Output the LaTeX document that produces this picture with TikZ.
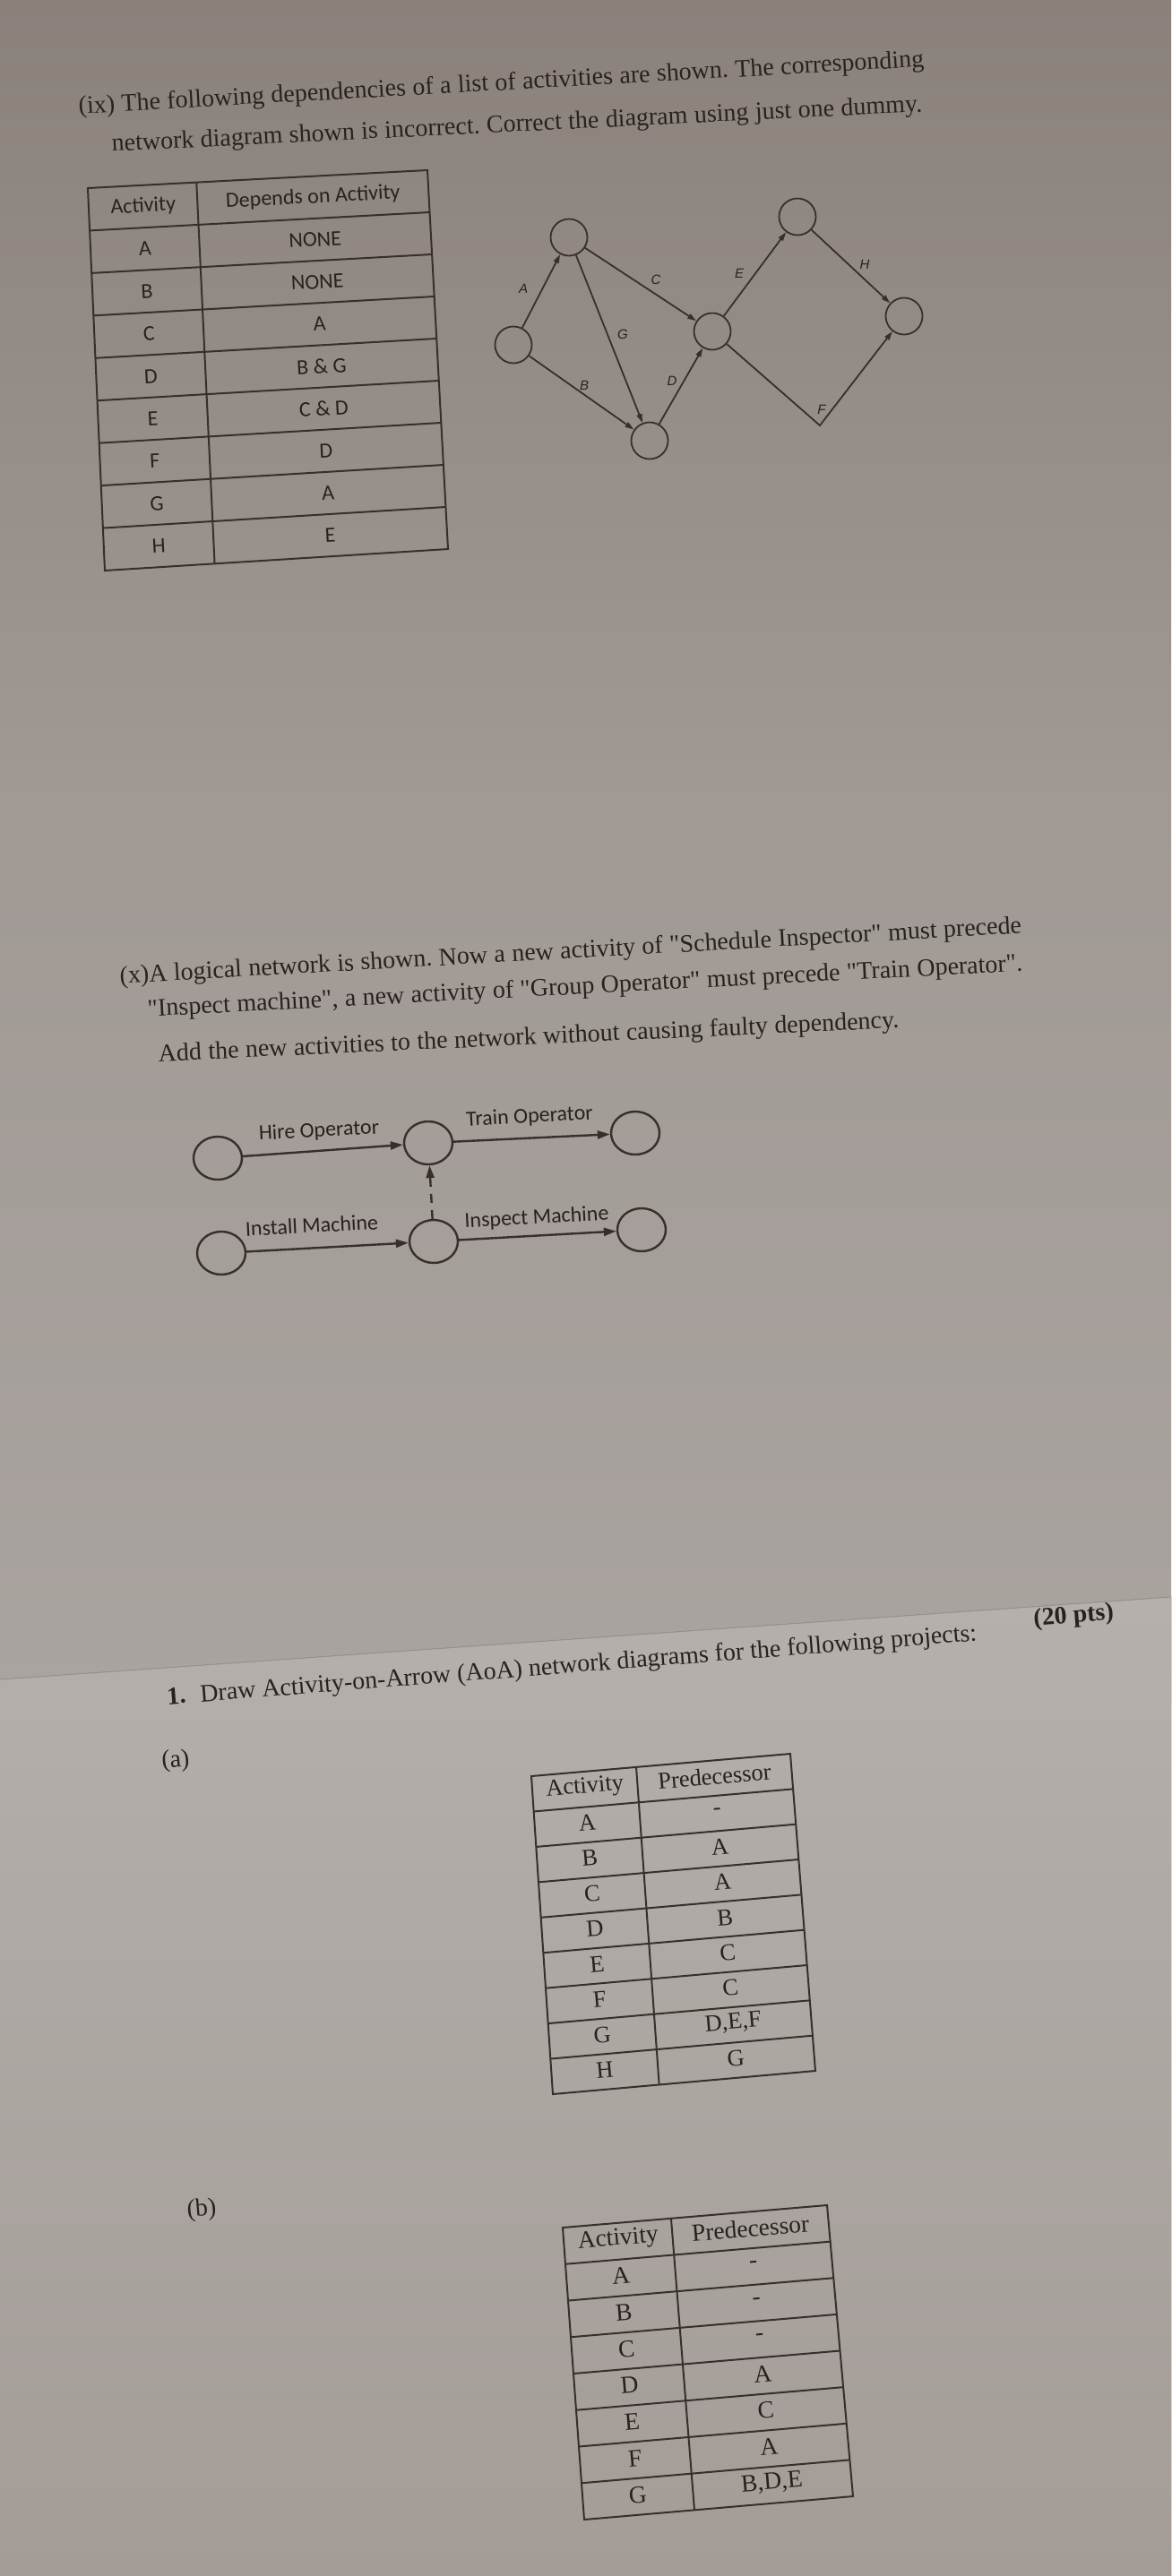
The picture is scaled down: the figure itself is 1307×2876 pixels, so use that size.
\documentclass[tikz,border=0pt]{standalone}
\usepackage{fontspec}
\setmainfont{Liberation Serif}[Ligatures=TeXOff]
\newfontfamily\carl{Carlito}
\newfontfamily\lsans{Liberation Sans}
\usetikzlibrary{arrows.meta,calc,shapes.geometric}
\definecolor{ink}{RGB}{40,34,31}
\definecolor{lineink}{RGB}{55,47,43}
\definecolor{bgA}{RGB}{138,129,123}
\definecolor{bgB}{RGB}{160,153,148}
\definecolor{bgC}{RGB}{170,164,160}
\definecolor{bgD}{RGB}{181,176,172}
\definecolor{bgE}{RGB}{163,156,151}
\definecolor{foldc}{RGB}{152,145,140}
% a tilted line of text, set word by word along one baseline
\newcommand\wline[4]{%
  \foreach \w [count=\j, remember=\j as \pj (initially 0)] in {#4}{%
    \ifnum\j=1
      \node[txt, anchor=base west, rotate=#3] (#1\j) at #2 {\w};
    \else
      \node[txt, anchor=base west, rotate=#3] (#1\j) at (#1\pj.base east) {\ \w};
    \fi
  }%
}
\begin{document}
\begin{tikzpicture}[x=1pt,y=-1pt,
  txt/.style={inner sep=0pt, text=ink, font=\fontsize{28}{32}\selectfont},
  tbl/.style={draw=lineink, line width=2pt},
  ctxt/.style={inner sep=0pt, text=ink, font=\carl\fontsize{24}{28}\selectfont},
  stxt/.style={inner sep=0pt, text=ink, font=\fontsize{26.5}{30}\selectfont},
  ev/.style={circle, draw=lineink, line width=1.8pt, minimum size=41pt, inner sep=0pt},
  act/.style={draw=lineink, line width=1.8pt, line join=miter, -{Triangle[length=10pt,width=6pt]}},
  lab/.style={inner sep=0pt, text=ink, font=\lsans\itshape\fontsize{15}{18}\selectfont},
  evx/.style={ellipse, draw=lineink, line width=2.4pt, minimum width=54pt, minimum height=48pt, inner sep=0pt},
  actx/.style={draw=lineink, line width=2.4pt, -{Triangle[length=14pt,width=9pt]}},
  dummyx/.style={actx, dash pattern=on 10pt off 8pt},
  labx/.style={inner sep=0pt, text=ink, font=\carl\fontsize{24}{28}\selectfont}
]
\useasboundingbox (0,0) rectangle (1307,2876);
% background (photographed paper)
\fill[top color=bgA, bottom color=bgB] (0,0) rectangle (1307,900);
\fill[top color=bgB, bottom color=bgC] (0,899) rectangle (1307,1900);
\fill[top color=bgD, bottom color=bgE] (0,1875) -- (1307,1783) -- (1307,2876) -- (0,2876) -- cycle;
\draw[foldc, line width=1pt] (0,1875) -- (1307,1783);

% ---------- (ix) ----------
\wline{ixa}{(88,127)}{3.2}{(ix),The,following,dependencies,of,a,list,of,activities,are,shown.,The,corresponding}
\wline{ixb}{(125,169)}{2.8}{network,diagram,shown,is,incorrect.,Correct,the,diagram,using,just,one,dummy.}

% table ix
\coordinate (T1tl) at (98,210);
\coordinate (T1tr) at (477,190);
\coordinate (T1bl) at (117,637);
\coordinate (T1br) at (500,613);
\draw[tbl] (T1tl) -- (T1tr) -- (T1br) -- (T1bl) -- cycle;
\foreach \k in {1,...,8} \draw[tbl] ($(T1tl)!{\k/9}!(T1bl)$) -- ($(T1tr)!{\k/9}!(T1br)$);
\draw[tbl] ($(T1tl)!0.32!(T1tr)$) -- ($(T1bl)!0.32!(T1br)$);
\foreach \a/\b [count=\i from 0] in {Activity/Depends on Activity,A/NONE,B/NONE,C/A,D/B \& G,E/C \& D,F/D,G/A,H/E}{
  \node[ctxt, rotate=3] (ixc\i) at ($($(T1tl)!{(\i+0.5)/9}!(T1bl)$)!0.16!($(T1tr)!{(\i+0.5)/9}!(T1br)$)$) {\a};
  \node[ctxt, rotate=3] (ixd\i) at ($($(T1tl)!{(\i+0.5)/9}!(T1bl)$)!0.66!($(T1tr)!{(\i+0.5)/9}!(T1br)$)$) {\b};
}

% network ix
\node[ev] (n1) at (573,385) {};
\node[ev] (n2) at (635,265) {};
\node[ev] (n3) at (725,492) {};
\node[ev] (n4) at (795,370) {};
\node[ev] (n5) at (890,242) {};
\node[ev] (n6) at (1009,353) {};
\coordinate (fc) at (915,475);
\draw[act] (n1) -- (n2);
\draw[act] (n1) -- (n3);
\draw[act] (n2) -- (n4);
\draw[act] (n2) -- (n3);
\draw[act] (n3) -- (n4);
\draw[act] (n4) -- (n5);
\draw[act] (n5) -- (n6);
\draw[act] (n4) -- (fc) -- (n6);
\node[lab] (lA) at (584,322) {A};
\node[lab] (lC) at (732,312) {C};
\node[lab] (lE) at (825,305) {E};
\node[lab] (lH) at (965,295) {H};
\node[lab] (lG) at (695,373) {G};
\node[lab] (lB) at (652,430) {B};
\node[lab] (lD) at (750,425) {D};
\node[lab] (lF) at (917,457) {F};

% ---------- (x) ----------
\wline{xa}{(134,1098)}{3.2}{(x)A,logical,network,is,shown.,Now,a,new,activity,of,"Schedule,Inspector",must,precede}
\wline{xb}{(165,1135)}{3.0}{"Inspect,{machine",},a,new,activity,of,"Group,Operator",must,precede,"Train,Operator".}
\wline{xc}{(177,1185)}{2.6}{Add,the,new,activities,to,the,network,without,causing,faulty,dependency.}

\node[evx] (h1) at (243,1293) {};
\node[evx] (h2) at (478,1276) {};
\node[evx] (h3) at (709,1265) {};
\node[evx] (i1) at (247,1399) {};
\node[evx] (i2) at (484,1386) {};
\node[evx] (i3) at (716,1373) {};
\draw[actx] (h1) -- (h2);
\draw[actx] (h2) -- (h3);
\draw[actx] (i1) -- (i2);
\draw[actx] (i2) -- (i3);
\draw[dummyx] (i2) -- (h2);
\node[labx, rotate=3] (lho) at (356,1263) {Hire Operator};
\node[labx, rotate=3] (lto) at (591,1247) {Train Operator};
\node[labx, rotate=3] (lim) at (348,1368) {Install Machine};
\node[labx, rotate=3] (lin) at (599,1360) {Inspect Machine};

% ---------- 1. ----------
\node[txt, anchor=base west, rotate=4.5] (q1) at (187,1903) {\textbf{1.}\hspace{16pt}Draw Activity-on-Arrow (AoA) network diagrams for the following projects:};
\node[txt, anchor=base west, rotate=4.5] (pts) at (1154,1815) {\textbf{(20 pts)}};
\node[txt, rotate=4.5] (qa) at (196,1966) {(a)};
\node[txt, rotate=4.5] (qb) at (225,2467) {(b)};

% table (a)
\coordinate (T2tl) at (593,1983);
\coordinate (T2tr) at (882,1958);
\coordinate (T2bl) at (617,2338);
\coordinate (T2br) at (910,2312);
\draw[tbl] (T2tl) -- (T2tr) -- (T2br) -- (T2bl) -- cycle;
\foreach \k in {1,...,8} \draw[tbl] ($(T2tl)!{\k/9}!(T2bl)$) -- ($(T2tr)!{\k/9}!(T2br)$);
\draw[tbl] ($(T2tl)!0.405!(T2tr)$) -- ($(T2bl)!0.405!(T2br)$);
\foreach \a/\b [count=\i from 0] in {Activity/Predecessor,A/-,B/A,C/A,D/B,E/C,F/C,G/{D,E,F},H/G}{
  \node[stxt, rotate=4.9] (ta\i) at ($($(T2tl)!{(\i+0.45)/9}!(T2bl)$)!0.2025!($(T2tr)!{(\i+0.45)/9}!(T2br)$)$) {\a};
  \node[stxt, rotate=4.9] (tb\i) at ($($(T2tl)!{(\i+0.45)/9}!(T2bl)$)!0.7025!($(T2tr)!{(\i+0.45)/9}!(T2br)$)$) {\b};
}

% table (b)
\coordinate (T3tl) at (628,2487);
\coordinate (T3tr) at (923,2462);
\coordinate (T3bl) at (652,2813);
\coordinate (T3br) at (952,2787);
\draw[tbl] (T3tl) -- (T3tr) -- (T3br) -- (T3bl) -- cycle;
\foreach \k in {1,...,7} \draw[tbl] ($(T3tl)!{\k/8}!(T3bl)$) -- ($(T3tr)!{\k/8}!(T3br)$);
\draw[tbl] ($(T3tl)!0.41!(T3tr)$) -- ($(T3bl)!0.41!(T3br)$);
\foreach \a/\b [count=\i from 0] in {Activity/Predecessor,A/-,B/-,C/-,D/A,E/C,F/A,G/{B,D,E}}{
  \node[stxt, rotate=4.8, font=\fontsize{27.5}{31}\selectfont] (tc\i) at ($($(T3tl)!{(\i+0.45)/8}!(T3bl)$)!0.205!($(T3tr)!{(\i+0.45)/8}!(T3br)$)$) {\a};
  \node[stxt, rotate=4.8, font=\fontsize{27.5}{31}\selectfont] (td\i) at ($($(T3tl)!{(\i+0.45)/8}!(T3bl)$)!0.705!($(T3tr)!{(\i+0.45)/8}!(T3br)$)$) {\b};
}
\end{tikzpicture}
\end{document}
